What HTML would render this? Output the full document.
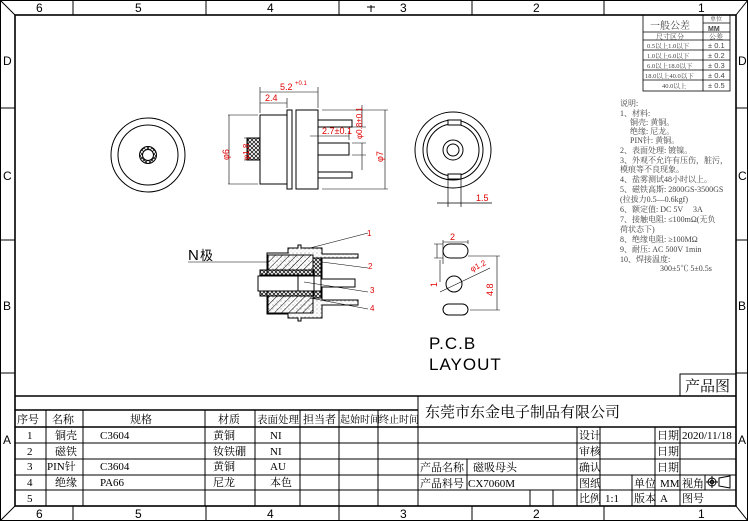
<!DOCTYPE html>
<html><head><meta charset="utf-8"><style>
html,body{margin:0;padding:0;background:#fff}
svg{display:block}
text{font-family:"Liberation Serif","Noto Serif CJK SC","Noto Sans CJK SC",serif;fill:#000}
.s,.s text{font-family:"Liberation Sans","Noto Sans CJK SC",sans-serif}
.r,.r text{fill:#e00000}
.g text{fill:#444}
</style></head><body>
<svg width="748" height="521" viewBox="0 0 748 521" xmlns="http://www.w3.org/2000/svg">
<defs>
<pattern id="h" width="5" height="5" patternUnits="userSpaceOnUse" patternTransform="rotate(45)"><line x1="0" y1="0" x2="0" y2="5" stroke="#000" stroke-width="1"/></pattern>
<pattern id="x" width="4" height="4" patternUnits="userSpaceOnUse"><path d="M0 0L4 4M4 0L0 4" stroke="#000" stroke-width="0.7"/></pattern>
<pattern id="d" width="4" height="4" patternUnits="userSpaceOnUse"><rect width="4" height="4" fill="#fff"/><circle cx="1" cy="1" r="0.5" fill="#666"/><circle cx="3" cy="3" r="0.4" fill="#999"/></pattern>
</defs>
<g fill="none" stroke="#000" stroke-width="1">
<rect x="0.5" y="0.5" width="747" height="520"/>
<rect x="15" y="15" width="721" height="491" stroke-width="1.6"/>
<path d="M0 0L15 15M748 0L736 15M0 521L15 506M748 521L736 506"/>
<path d="M73 0V15M206 0V15M339 0V15M472 0V15M604 0V15M73 506V521M206 506V521M339 506V521M472 506V521M604 506V521"/>
<path d="M0 108H15M0 240H15M0 373H15M736 108H748M736 240H748M736 373H748"/>
<path d="M371 5V12M367 7H375"/>
</g>
<g class="s" font-size="12">
<text x="36" y="12">6</text><text x="135" y="12">5</text><text x="267" y="12">4</text><text x="400" y="12">3</text><text x="533" y="12">2</text><text x="698" y="12">1</text>
<text x="36" y="518">6</text><text x="135" y="518">5</text><text x="267" y="518">4</text><text x="400" y="518">3</text><text x="533" y="518">2</text><text x="698" y="518">1</text>
<text x="3" y="65">D</text><text x="3" y="180">C</text><text x="3" y="310">B</text><text x="3" y="444">A</text>
<text x="738" y="65">D</text><text x="738" y="180">C</text><text x="738" y="310">B</text><text x="738" y="444">A</text>
</g>

<!-- tolerance table -->
<g fill="none" stroke="#000" stroke-width="0.8">
<rect x="643" y="15" width="87" height="76"/>
<path d="M703 15V91M703 23H730M643 32H730M643 40H730M643 50H730M643 60H730M643 70H730M643 80H730"/>
</g>
<g font-size="8" class="g">
<text x="650" y="29" font-size="10">一般公差</text>
<text x="710" y="21" font-size="6">单位</text>
<text x="708" y="31" font-size="7" class="s" font-weight="bold">MM</text>
<text x="656" y="39" font-size="7">尺寸区分</text><text x="709" y="39" font-size="7">公差</text>
<text x="647" y="48" font-size="6.5">0.5以上1.0以下</text><text x="708" y="48" class="s" font-size="7.5">± 0.1</text>
<text x="647" y="58" font-size="6.5">1.0以上6.0以下</text><text x="708" y="58" class="s" font-size="7.5">± 0.2</text>
<text x="647" y="68" font-size="6.5">6.0以上18.0以下</text><text x="708" y="68" class="s" font-size="7.5">± 0.3</text>
<text x="645" y="78" font-size="6.5">18.0以上40.0以下</text><text x="708" y="78" class="s" font-size="7.5">± 0.4</text>
<text x="662" y="88" font-size="6.5">40.0以上</text><text x="708" y="88" class="s" font-size="7.5">± 0.5</text>
</g>
<g font-size="8" class="g">
<text x="620" y="106">说明:</text>
<text x="620" y="116">1、材料:</text>
<text x="630" y="125">铜壳: 黄铜。</text>
<text x="630" y="134">绝缘: 尼龙。</text>
<text x="630" y="143">PIN针: 黄铜。</text>
<text x="620" y="153">2、表面处理: 镀镍。</text>
<text x="620" y="163">3、外观不允许有压伤，脏污，</text>
<text x="620" y="172">模痕等不良现象。</text>
<text x="620" y="182">4、盐雾测试48小时以上。</text>
<text x="620" y="192">5、磁铁高斯: 2800GS-3500GS</text>
<text x="620" y="202">(拉拔力0.5—0.6kgf)</text>
<text x="620" y="212">6、额定值: DC 5V　 3A</text>
<text x="620" y="222">7、接触电阻: ≤100mΩ(无负</text>
<text x="620" y="232">荷状态下)</text>
<text x="620" y="242">8、绝缘电阻: ≥100MΩ</text>
<text x="620" y="252">9、耐压: AC 500V 1min</text>
<text x="620" y="262">10、焊接温度:</text>
<text x="660" y="271">300±5℃ 5±0.5s</text>
</g>

<!-- left view -->
<g fill="none" stroke="#000" stroke-width="1">
<circle cx="148" cy="155" r="37"/><circle cx="148" cy="155" r="30"/>
<circle cx="148" cy="155" r="8.5" fill="url(#x)"/><circle cx="148" cy="155" r="5.5" fill="#fff"/>
</g>

<!-- side view -->
<g fill="#fff" stroke="#000" stroke-width="1">
<rect x="318" y="120" width="34" height="7"/><rect x="318" y="143" width="31" height="12"/><rect x="318" y="172" width="34" height="6"/>
<rect x="260" y="115" width="27" height="69"/>
<rect x="287" y="110" width="5" height="79"/>
<rect x="296" y="110" width="22" height="79"/>
<rect x="247" y="138" width="13" height="22" fill="url(#x)"/>
</g>
<g fill="none" stroke="#000" stroke-width="0.6">
<path d="M260 87V113M318 87V108M287 98V108M260 92H318M260 103H287M228 115H258M228 184H258M229 115V184M244 138H250M244 160H250M248 138V160M322 110H388M322 189H388M385 110V189M318 131V140M349 131V140M310 136H349M352 127H366M352 143H366M362 105V127M362 143V170M352 155H366"/>
</g>
<g font-size="9" class="s r">
<text x="280" y="90">5.2</text><text x="295" y="85" font-size="6">+0.1</text>
<text x="265" y="101">2.4</text>
<text x="322" y="134">2.7±0.1</text>
<text transform="translate(229,160) rotate(-90)">φ6</text>
<text transform="translate(249,160) rotate(-90)" font-size="8">φ1.8</text>
<text transform="translate(383,162) rotate(-90)">φ7</text>
<text transform="translate(362,139) rotate(-90)" font-size="8">φ0.8±0.1</text>
</g>

<!-- right view -->
<g fill="none" stroke="#000" stroke-width="1">
<circle cx="453" cy="150" r="38"/><circle cx="453" cy="150" r="30"/><circle cx="453" cy="150" r="26"/>
<circle cx="453" cy="150" r="10"/><circle cx="453" cy="150" r="6"/>
<rect x="448" y="120" width="13" height="5" fill="#fff"/><rect x="448" y="174" width="13" height="5" fill="#fff"/>
<path d="M448 179V207M461 179V207M437 203H492" stroke-width="0.7"/>
</g>
<g class="s r"><text x="476" y="201" font-size="9">1.5</text></g>

<!-- section view -->
<g stroke="#000" stroke-width="1">
<path d="M298 248V245H301V248H322V254H358V258H322V300H358V305H322V318H301V321H298V318H288V314H267V253H288V248Z" fill="url(#d)"/>
<rect x="268" y="255" width="45" height="15" fill="url(#h)"/>
<rect x="268" y="296" width="45" height="17" fill="url(#h)"/>
<rect x="260" y="270" width="54" height="5" fill="url(#x)"/>
<rect x="260" y="291" width="54" height="5" fill="url(#x)"/>
<rect x="313" y="258" width="8" height="40" fill="url(#x)"/>
<rect x="258" y="276" width="63" height="15" fill="#fff"/>
<path d="M298 276V291M314 276V291" fill="none"/>
<rect x="321" y="279" width="34" height="8" fill="#fff"/>
<path d="M188 262H268M310 248L368 233M322 262L368 268M304 282L368 292M310 298L368 309" fill="none" stroke-width="0.6"/>
</g>
<text x="188" y="260" font-size="15" class="s">N</text><text x="200" y="260" font-size="13" fill="#226" class="s">极</text>
<g font-size="8" class="s r"><text x="367" y="236">1</text><text x="368" y="269">2</text><text x="370" y="293">3</text><text x="370" y="311">4</text></g>

<!-- PCB layout -->
<g fill="none" stroke="#000" stroke-width="1">
<rect x="443" y="244" width="25" height="14" rx="7"/>
<circle cx="454" cy="284" r="8"/>
<rect x="443" y="304" width="25" height="11" rx="5.5"/>
<path d="M443 240V264M468 240V244M443 242H468M437 244V258M434 244H443M434 258H443M440 260V282M468 256H500M470 310H500M497 256V310M440 292L490 268" stroke-width="0.6"/>
</g>
<g font-size="9" class="s r"><text x="450" y="240">2</text><text transform="translate(437,287) rotate(-90)">1</text>
<text transform="translate(493,296) rotate(-90)">4.8</text><text transform="translate(472,272) rotate(-27)" font-size="8">φ1.2</text></g>
<g class="s"><text x="429" y="349" font-size="17" letter-spacing="1">P.C.B</text>
<text x="429" y="370" font-size="17" letter-spacing="1">LAYOUT</text></g>

<!-- title block -->
<g fill="none" stroke="#000" stroke-width="1">
<rect x="680" y="374" width="56" height="22"/>
<path d="M15 396H736M15 410H418M15 427H736" stroke-width="1.4"/>
<path d="M15 443H418M15 459H418M15 475H418M15 490H418M418 443H736M418 459H577M577 459H736M418 475H736M418 490H736"/>
<path d="M418 396V506M46 410V506M83 410V506M205 410V506M255 410V506M300 410V506M339 410V506M378 410V506"/>
<path d="M577 427V506M600 427V506M655 427V506M680 427V506M467 459V490M632 475V506M705 475V490M530 490V506M553 490V506"/>
</g>
<g font-size="11">
<text x="685" y="391" font-size="15">产品图</text>
<text x="425" y="417" font-size="15">东莞市东金电子制品有限公司</text>
<text x="17" y="423">序号</text><text x="52" y="423">名称</text><text x="130" y="423">规格</text><text x="218" y="423">材质</text><text x="257" y="423" font-size="10.5">表面处理</text><text x="303" y="423" fill="#555">担当者</text><text x="340" y="423" font-size="10">起始时间</text><text x="379" y="423" font-size="10">终止时间</text>
<text x="27" y="439">1</text><text x="55" y="439">铜壳</text><text x="100" y="439">C3604</text><text x="213" y="439">黄铜</text><text x="270" y="439">NI</text>
<text x="27" y="455">2</text><text x="55" y="455">磁铁</text><text x="213" y="455">钕铁硼</text><text x="270" y="455">NI</text>
<text x="27" y="470">3</text><text x="47" y="470">PIN针</text><text x="100" y="470">C3604</text><text x="213" y="470">黄铜</text><text x="270" y="470">AU</text>
<text x="27" y="486">4</text><text x="55" y="486">绝缘</text><text x="100" y="486">PA66</text><text x="213" y="486">尼龙</text><text x="270" y="486">本色</text>
<text x="27" y="502">5</text>
<text x="579" y="439">设计</text><text x="657" y="439">日期</text><text x="682" y="439">2020/11/18</text>
<text x="579" y="455">审核</text><text x="657" y="455">日期</text>
<text x="420" y="471">产品名称</text><text x="473" y="471">磁吸母头</text><text x="579" y="471">确认</text><text x="657" y="471">日期</text>
<text x="420" y="487">产品料号</text><text x="468" y="487">CX7060M</text><text x="579" y="487">图纸</text><text x="634" y="487">单位</text><text x="660" y="487">MM</text><text x="682" y="487">视角</text>
<text x="579" y="502">比例</text><text x="605" y="502">1:1</text><text x="634" y="502">版本</text><text x="660" y="502">A</text><text x="682" y="502">图号</text>
</g>
<g fill="none" stroke="#000" stroke-width="1">
<circle cx="712" cy="482" r="4"/><circle cx="712" cy="482" r="1.8"/><path d="M706 482H718M712 476V488M719 478L730 476V488L719 486Z"/>
</g>
</svg>
</body></html>
